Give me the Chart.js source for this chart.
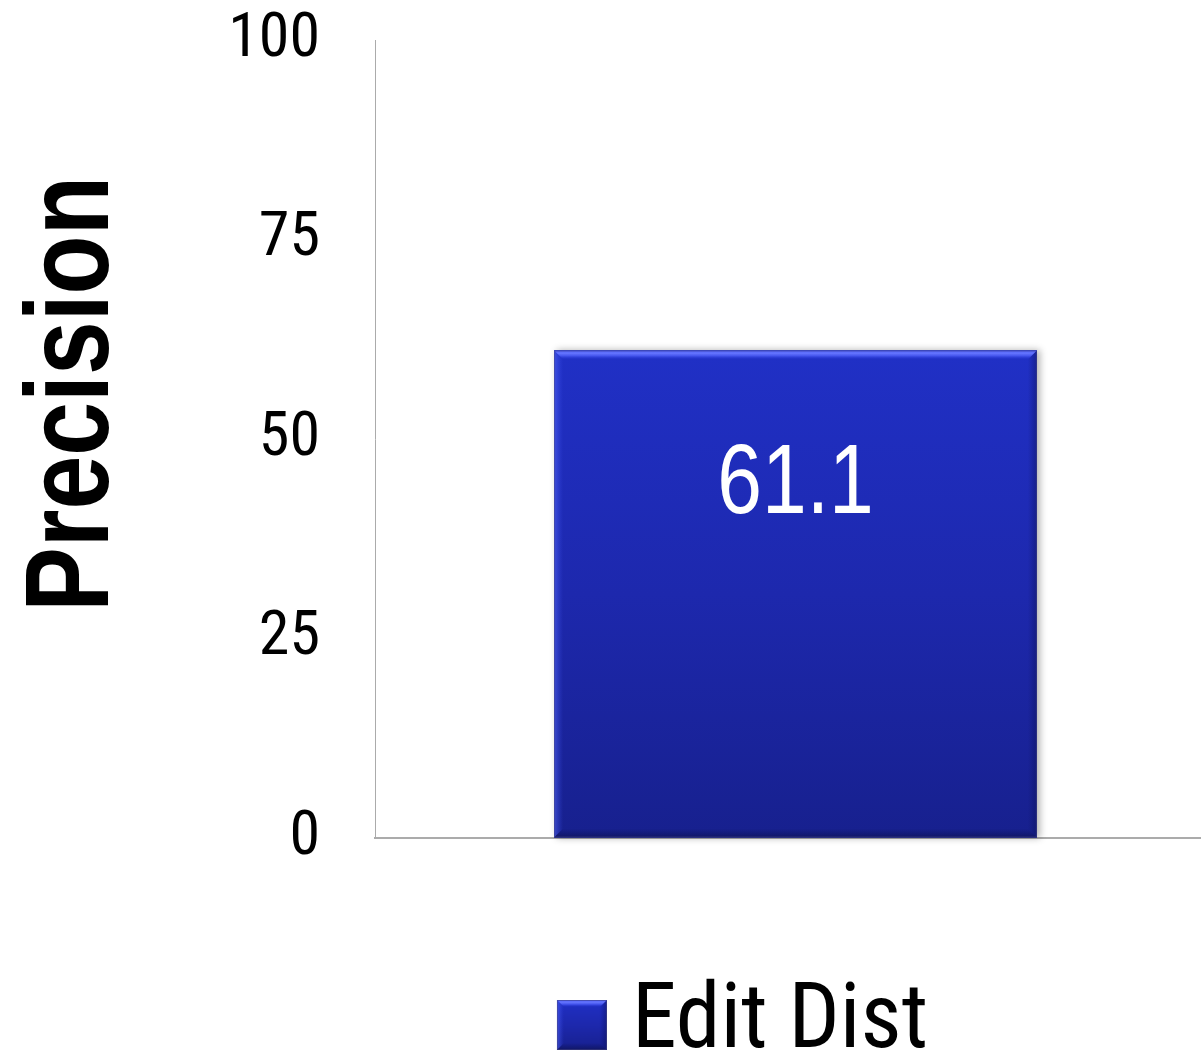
<!DOCTYPE html>
<html>
<head>
<meta charset="utf-8">
<title>Precision</title>
<script src="https://cdn.jsdelivr.net/npm/chart.js@4.4.1/dist/chart.umd.min.js"></script>
<style>
  html, body { margin: 0; padding: 0; background: #ffffff; overflow: hidden; }
</style>
</head>
<body>
<canvas id="chart" width="1216" height="1079"></canvas>
<script>
// Data
const categories = ['Edit Dist'];
const seriesNames = ['Edit Dist'];
const precisionValues = [61.1];
const yTickValues = [0, 25, 50, 75, 100];
const axisTitle = 'Precision';

const CONDENSED = '"Roboto Condensed", "Liberation Sans", sans-serif';
const SANS = '"Liberation Sans", Arial, sans-serif';

// Narrow text: Liberation Sans squeezed horizontally
function narrowText(ctx, text, x, y, font, color, align, baseline, angle) {
  ctx.save();
  ctx.translate(x, y);
  if (angle) ctx.rotate(angle);
  ctx.scale(0.82, 1);
  ctx.font = font;
  ctx.fillStyle = color;
  ctx.textAlign = align;
  ctx.textBaseline = baseline;
  ctx.fillText(text, 0, 0);
  ctx.restore();
}

// Bevelled blue block, used for the bar and the legend swatch
function paintBevel(ctx, left, top, right, bottom, b) {
  const g = ctx.createLinearGradient(0, top, 0, bottom);
  g.addColorStop(0, '#2030c6');
  g.addColorStop(0.5, '#1d28ad');
  g.addColorStop(1, '#17208e');
  ctx.fillStyle = g;
  ctx.fillRect(left, top, right - left, bottom - top);

  // top bevel (bright)
  const tg = ctx.createLinearGradient(0, top, 0, top + b);
  tg.addColorStop(0, '#4354ee');
  tg.addColorStop(0.3, '#6676ff');
  tg.addColorStop(0.6, '#4556ee');
  tg.addColorStop(1, 'rgba(40,55,215,0.0)');
  ctx.fillStyle = tg;
  ctx.beginPath();
  ctx.moveTo(left, top); ctx.lineTo(right, top);
  ctx.lineTo(right - b, top + b); ctx.lineTo(left + b, top + b);
  ctx.closePath(); ctx.fill();

  // left bevel
  const lg = ctx.createLinearGradient(left, 0, left + b, 0);
  lg.addColorStop(0, 'rgba(90,110,255,0.55)');
  lg.addColorStop(1, 'rgba(60,80,240,0.0)');
  ctx.fillStyle = lg;
  ctx.beginPath();
  ctx.moveTo(left, top); ctx.lineTo(left + b, top + b);
  ctx.lineTo(left + b, bottom - b); ctx.lineTo(left, bottom);
  ctx.closePath(); ctx.fill();

  // right bevel
  const rg = ctx.createLinearGradient(right - b, 0, right, 0);
  rg.addColorStop(0, 'rgba(10,15,90,0.0)');
  rg.addColorStop(1, 'rgba(10,15,80,0.45)');
  ctx.fillStyle = rg;
  ctx.beginPath();
  ctx.moveTo(right, top); ctx.lineTo(right - b, top + b);
  ctx.lineTo(right - b, bottom - b); ctx.lineTo(right, bottom);
  ctx.closePath(); ctx.fill();

  // bottom bevel
  const bg = ctx.createLinearGradient(0, bottom - b, 0, bottom);
  bg.addColorStop(0, 'rgba(10,12,70,0.0)');
  bg.addColorStop(1, 'rgba(10,12,60,0.5)');
  ctx.fillStyle = bg;
  ctx.beginPath();
  ctx.moveTo(left, bottom); ctx.lineTo(right, bottom);
  ctx.lineTo(right - b, bottom - b); ctx.lineTo(left + b, bottom - b);
  ctx.closePath(); ctx.fill();

  ctx.strokeStyle = 'rgba(70,70,130,0.55)';
  ctx.lineWidth = 1;
  ctx.strokeRect(left + 0.5, top + 0.5, right - left - 1, bottom - top - 1);
}

// Legend swatch: 50px block at the right of a transparent image
const SWATCH_W = 119, SWATCH_H = 52;
const swatch = document.createElement('canvas');
swatch.width = SWATCH_W; swatch.height = SWATCH_H;
paintBevel(swatch.getContext('2d'), SWATCH_W - 50, 2, SWATCH_W, 52, 7);

const bevelBars = {
  id: 'bevelBars',
  beforeDatasetsDraw(chart) {
    const ctx = chart.ctx;
    chart.getDatasetMeta(0).data.forEach(bar => {
      const left = bar.x - bar.width / 2, right = bar.x + bar.width / 2;
      ctx.save();
      ctx.shadowColor = 'rgba(0,0,0,0.3)';
      ctx.shadowBlur = 7;
      ctx.shadowOffsetX = 3;
      ctx.fillStyle = '#1a2399';
      ctx.fillRect(left, bar.y, right - left, bar.base - bar.y);
      ctx.restore();
    });
  },
  afterDatasetsDraw(chart) {
    const ctx = chart.ctx;
    const ds = chart.data.datasets[0];
    chart.getDatasetMeta(0).data.forEach((bar, i) => {
      const left = bar.x - bar.width / 2, right = bar.x + bar.width / 2;
      ctx.save();
      paintBevel(ctx, left, bar.y, right, bar.base, 9);
      ctx.restore();
      // value label inside the bar
      narrowText(ctx, ds.data[i].toFixed(1), bar.x, bar.y + 163,
        '98px ' + SANS, '#ffffff', 'center', 'alphabetic', 0);
    });
  }
};

// Rotated axis title on the left
const sideTitle = {
  id: 'sideTitle',
  afterDraw(chart) {
    narrowText(chart.ctx, axisTitle, 108, 394, 'bold 118px ' + SANS,
      '#000000', 'center', 'alphabetic', -Math.PI / 2);
  }
};

new Chart(document.getElementById('chart'), {
  type: 'bar',
  data: {
    labels: categories,
    datasets: [{
      label: seriesNames[0],
      data: precisionValues,
      backgroundColor: '#1f2bb5',
      borderWidth: 0,
      barPercentage: 0.574,
      categoryPercentage: 1.0
    }]
  },
  options: {
    responsive: false,
    animation: false,
    devicePixelRatio: 1,
    layout: { padding: { top: 40, left: 220, right: 0, bottom: 0 } },
    plugins: {
      tooltip: { enabled: false },
      legend: {
        position: 'bottom',
        align: 'center',
        labels: {
          usePointStyle: true,
          pointStyle: swatch,
          boxWidth: 79,
          boxHeight: 50,
          padding: 10,
          color: '#000000',
          font: { family: CONDENSED, size: 90 }
        }
      }
    },
    scales: {
      x: {
        grid: { display: false },
        border: { display: true, color: '#ababab', width: 2 },
        ticks: { display: false },
        afterFit(scale) { scale.height = 131; }
      },
      y: {
        min: 0,
        max: 100,
        afterBuildTicks(scale) { scale.ticks = yTickValues.map(v => ({ value: v })); },
        grid: {
          display: true,
          drawOnChartArea: false,
          drawTicks: true,
          tickLength: 55,
          tickColor: 'rgba(0,0,0,0)'
        },
        border: { display: true, color: '#ababab', width: 1 },
        ticks: {
          padding: 0,
          color: '#000000',
          font: { family: CONDENSED, size: 62, lineHeight: 1 }
        },
        afterFit(scale) { scale.width = 155; }
      }
    }
  },
  plugins: [bevelBars, sideTitle]
});
</script>
</body>
</html>
